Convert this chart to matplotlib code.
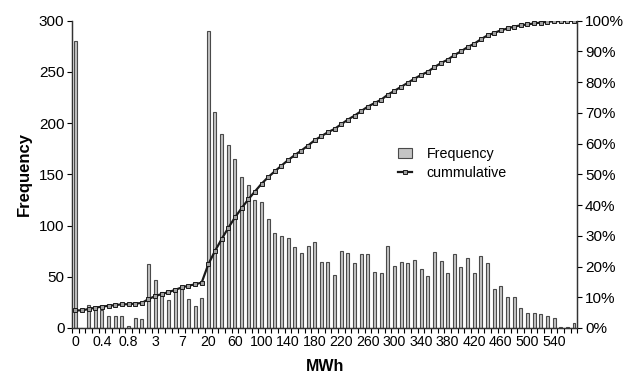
import numpy as np
import matplotlib
matplotlib.use('Agg')
import matplotlib.pyplot as plt
from matplotlib.ticker import FuncFormatter

plt.rcParams['font.family'] = ['Liberation Sans', 'DejaVu Sans']

# categories (MWh bins)
categories = ['0', '0.1', '0.2', '0.3', '0.4', '0.5', '0.6', '0.7', '0.8', '0.9',
              '1', '2', '3', '4', '5', '6', '7', '8', '9', '10'] + \
             [str(v) for v in range(20, 580, 10)]

frequency = [280, 0, 22, 20, 18, 12, 12, 12, 2, 10,
             9, 62, 47, 35, 27, 38, 38, 28, 21, 29,
             290, 211, 189, 179, 165, 147, 140, 125, 123, 106,
             93, 90, 88, 79, 73, 80, 84, 64, 64, 52,
             75, 73, 63, 72, 72, 55, 54, 80, 61, 64,
             63, 66, 58, 51, 74, 65, 54, 72, 60, 68,
             54, 70, 63, 38, 41, 30, 30, 20, 15, 15,
             14, 12, 10, 1, 1, 5]

freq = np.array(frequency)
cumulative = np.cumsum(freq) / freq.sum() * 100
x = np.arange(len(categories))

fig = plt.figure(figsize=(6.34, 3.77), dpi=100)
ax = fig.add_axes([0.1136, 0.130, 0.797, 0.815])

bars = ax.bar(x, freq, width=0.45, color='#c4c4c4', edgecolor='#4a4a4a',
              linewidth=0.8, label='Frequency')
ax.set_xlim(-0.5, len(categories) - 0.5)
ax.set_ylim(0, 300)
ax.set_yticks(np.arange(0, 301, 50))
ax.set_ylabel('Frequency', fontsize=12, fontweight='bold', labelpad=5)
ax.set_xlabel('MWh', fontsize=11.5, fontweight='bold', labelpad=7)

ax.set_xticks(x[::4])
ax.set_xticklabels(categories[::4])
ax.set_xticks(np.arange(-0.5, len(categories), 1), minor=True)
ax.tick_params(axis='x', which='major', length=0, labelsize=10.2, pad=5)
ax.tick_params(axis='x', which='minor', length=3.5, width=0.8, direction='out')
ax.tick_params(axis='y', length=3.5, width=0.8, labelsize=11, pad=2)

ax2 = ax.twinx()
line, = ax2.plot(x, cumulative, color='#1a1a1a', linewidth=1.6, marker='s',
                 markersize=3.2, markerfacecolor='#a0a0a0', markeredgecolor='#1a1a1a',
                 markeredgewidth=0.7, label='cummulative')
ax2.set_ylim(0, 100)
ax2.set_yticks(np.arange(0, 101, 10))
ax2.yaxis.set_major_formatter(FuncFormatter(lambda v, p: '%d%%' % v))
ax2.tick_params(axis='y', length=3.5, width=0.8, labelsize=11, pad=2)

for a in (ax, ax2):
    a.spines['top'].set_visible(False)
    for s in ('left', 'right', 'bottom'):
        a.spines[s].set_color('#333333')
        a.spines[s].set_linewidth(0.9)

ax2.legend([bars, line], ['Frequency', 'cummulative'], frameon=False, fontsize=10.3,
           loc='center left', bbox_to_anchor=(0.62, 0.535), handlelength=1.0,
           handletextpad=1.0, labelspacing=0.3)

fig.savefig('out.png', dpi=100)
